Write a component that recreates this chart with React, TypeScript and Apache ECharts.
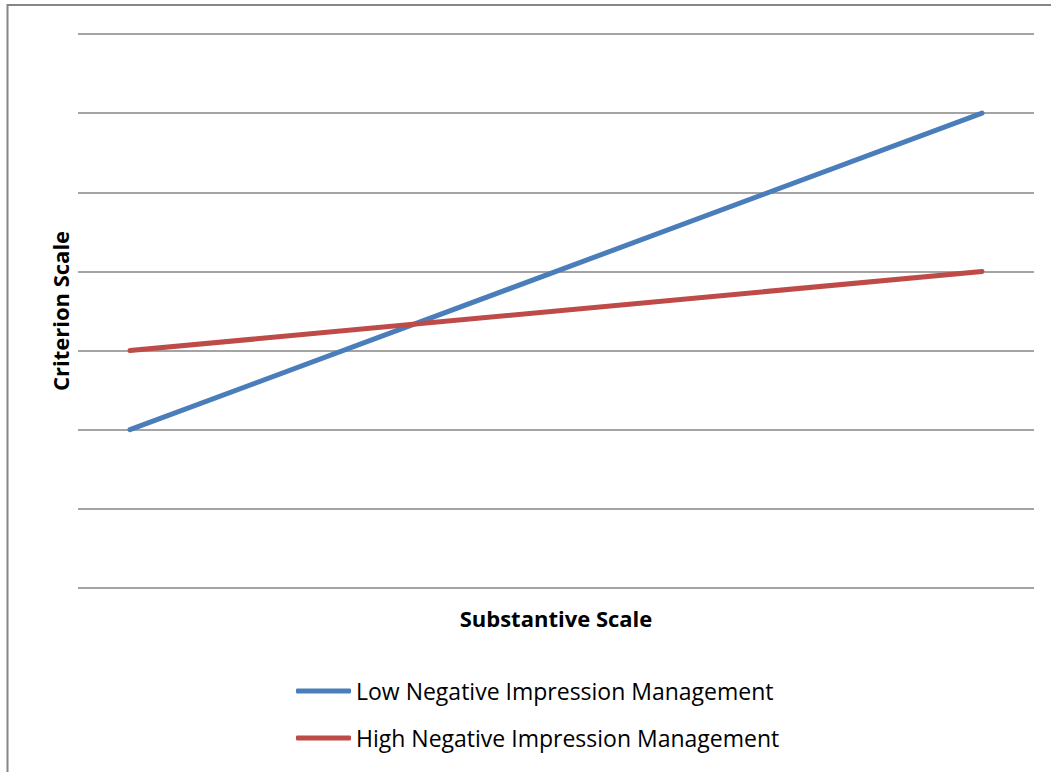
import React, { useEffect, useRef } from "react";
import * as echarts from "echarts";

const substantiveLevels = [0, 1];
const lowNegativeIM = [2, 6];
const highNegativeIM = [3, 4];
const seriesNames = ["Low Negative Impression Management", "High Negative Impression Management"];
const seriesColors = ["#4A7EBB", "#BE4B48"];
const xTitle = "Substantive Scale";
const yTitle = "Criterion Scale";

export default function App() {
  const ref = useRef<HTMLDivElement>(null);
  useEffect(() => {
    document.body.style.margin = "0";
    const chart = echarts.init(ref.current!, null, { renderer: "svg" });
    const font = "'Open Sans', sans-serif";
    chart.setOption({
      animation: false,
      backgroundColor: "#ffffff",
      grid: { left: 78, right: 18, top: 34, bottom: 184 },
      xAxis: {
        type: "value",
        min: -0.061,
        max: 1.061,
        axisLine: { show: false },
        axisTick: { show: false },
        axisLabel: { show: false },
        splitLine: { show: false },
        name: xTitle,
        nameLocation: "middle",
        nameGap: 19,
        nameTextStyle: { fontFamily: font, fontWeight: "bold", fontSize: 22, color: "#000" },
      },
      yAxis: {
        type: "value",
        min: 0,
        max: 7,
        interval: 1,
        axisLine: { show: false },
        axisTick: { show: false },
        axisLabel: { show: false },
        splitLine: { show: true, lineStyle: { color: "#868686", width: 1.5 } },
        name: yTitle,
        nameLocation: "middle",
        nameRotate: 90,
        nameGap: 7,
        nameTextStyle: { fontFamily: font, fontWeight: "bold", fontSize: 22, color: "#000" },
      },
      legend: {
        orient: "vertical",
        left: 296,
        top: 678,
        padding: 0,
        itemWidth: 55,
        itemHeight: 5,
        itemGap: 21,
        icon: "roundRect",
        textStyle: { fontFamily: font, fontSize: 23, color: "#000", lineHeight: 26, padding: [0, 0, 0, 0] },
        data: seriesNames,
      },
      graphic: [
        {
          type: "polyline",
          shape: { points: [[7.5, 772], [7.5, 5], [1051, 5]] },
          style: { stroke: "#868686", lineWidth: 2, fill: "none" },
          silent: true,
        },
      ],
      series: [
        {
          name: seriesNames[0],
          type: "line",
          data: substantiveLevels.map((x, i) => [x, lowNegativeIM[i]]),
          showSymbol: false,
          symbol: "none",
          lineStyle: { color: seriesColors[0], width: 5, cap: "round" },
          itemStyle: { color: seriesColors[0] },
        },
        {
          name: seriesNames[1],
          type: "line",
          data: substantiveLevels.map((x, i) => [x, highNegativeIM[i]]),
          showSymbol: false,
          symbol: "none",
          lineStyle: { color: seriesColors[1], width: 5, cap: "round" },
          itemStyle: { color: seriesColors[1] },
        },
      ],
    });
    return () => chart.dispose();
  }, []);
  return <div ref={ref} style={{ width: 1052, height: 772 }} />;
}
